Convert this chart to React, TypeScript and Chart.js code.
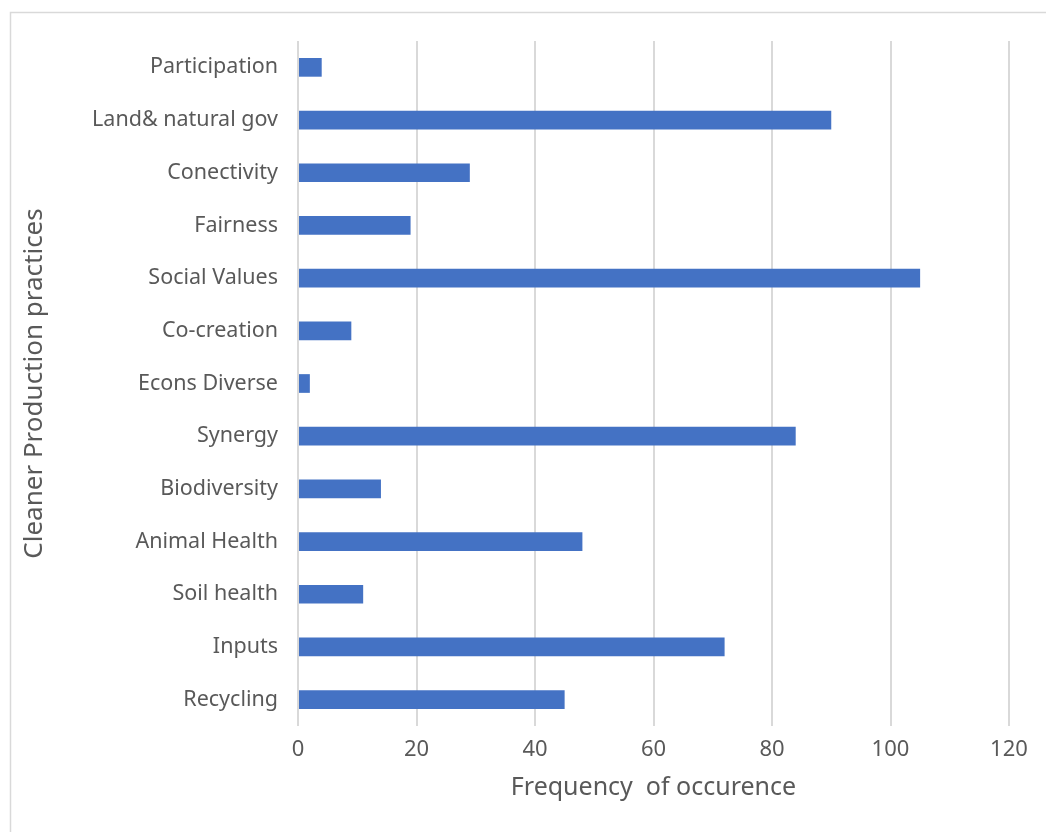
import React, { useEffect, useRef } from "react";
import { Chart, registerables } from "chart.js";

Chart.register(...registerables);

const categories = [
  "Participation",
  "Land& natural gov",
  "Conectivity",
  "Fairness",
  "Social Values",
  "Co-creation",
  "Econs Diverse",
  "Synergy",
  "Biodiversity",
  "Animal Health",
  "Soil health",
  "Inputs",
  "Recycling",
];
const frequencies = [4, 90, 29, 19, 105, 9, 2, 84, 14, 48, 11, 72, 45];
const xTicks = [0, 20, 40, 60, 80, 100, 120];
const xTitle = "Frequency  of occurence";
const yTitle = "Cleaner Production practices";

const FONT = "'Noto Sans', sans-serif";
const TEXT = "#595959";
const GRID = "#d9d9d9";

const framePlugin = {
  id: "frame",
  beforeDraw(chart: any) {
    const ctx = chart.ctx;
    ctx.save();
    ctx.fillStyle = "#ffffff";
    ctx.fillRect(0, 0, chart.width, chart.height);
    ctx.strokeStyle = GRID;
    ctx.lineWidth = 1.5;
    ctx.strokeRect(10.5, 12.5, chart.width + 20, chart.height + 20);
    ctx.restore();
  },
};

export default function App() {
  const ref = useRef<HTMLCanvasElement | null>(null);
  useEffect(() => {
    if (!ref.current) return;
    const chart = new Chart(ref.current, {
      type: "bar",
      data: {
        labels: categories,
        datasets: [
          {
            data: frequencies,
            backgroundColor: "#4472C4",
            borderWidth: 0,
            categoryPercentage: 1,
            barPercentage: 0.355,
          },
        ],
      },
      options: {
        indexAxis: "y",
        responsive: false,
        animation: false,
        layout: { padding: { top: 41, right: 37, left: 0, bottom: 0 } },
        plugins: {
          legend: { display: false },
          tooltip: { enabled: false },
        },
        scales: {
          x: {
            min: 0,
            max: 120,
            afterBuildTicks: (scale: any) => {
              scale.ticks = xTicks.map((v) => ({ value: v }));
            },
            afterFit: (scale: any) => {
              scale.height = 106;
            },
            grid: { color: GRID, lineWidth: 2, drawTicks: false },
            border: { display: false },
            ticks: {
              color: TEXT,
              font: { family: FONT, size: 22 },
              padding: 11,
            },
            title: {
              display: true,
              text: xTitle,
              color: TEXT,
              font: { family: FONT, size: 25 },
              padding: { top: 0, bottom: 29 },
            },
          },
          y: {
            afterFit: (scale: any) => {
              scale.width = 298;
            },
            grid: { display: false, drawTicks: false },
            border: { display: false },
            ticks: {
              color: TEXT,
              font: { family: FONT, size: 21.5 },
              padding: 20,
            },
            title: {
              display: true,
              text: yTitle,
              color: TEXT,
              font: { family: FONT, size: 26 },
              padding: { top: 19, bottom: 0 },
            },
          },
        },
      },
      plugins: [framePlugin],
    });
    return () => chart.destroy();
  }, []);
  return (
    <div style={{ position: "fixed", left: 0, top: 0, width: 1046, height: 832 }}>
      <canvas ref={ref} width={1046} height={832} />
    </div>
  );
}
